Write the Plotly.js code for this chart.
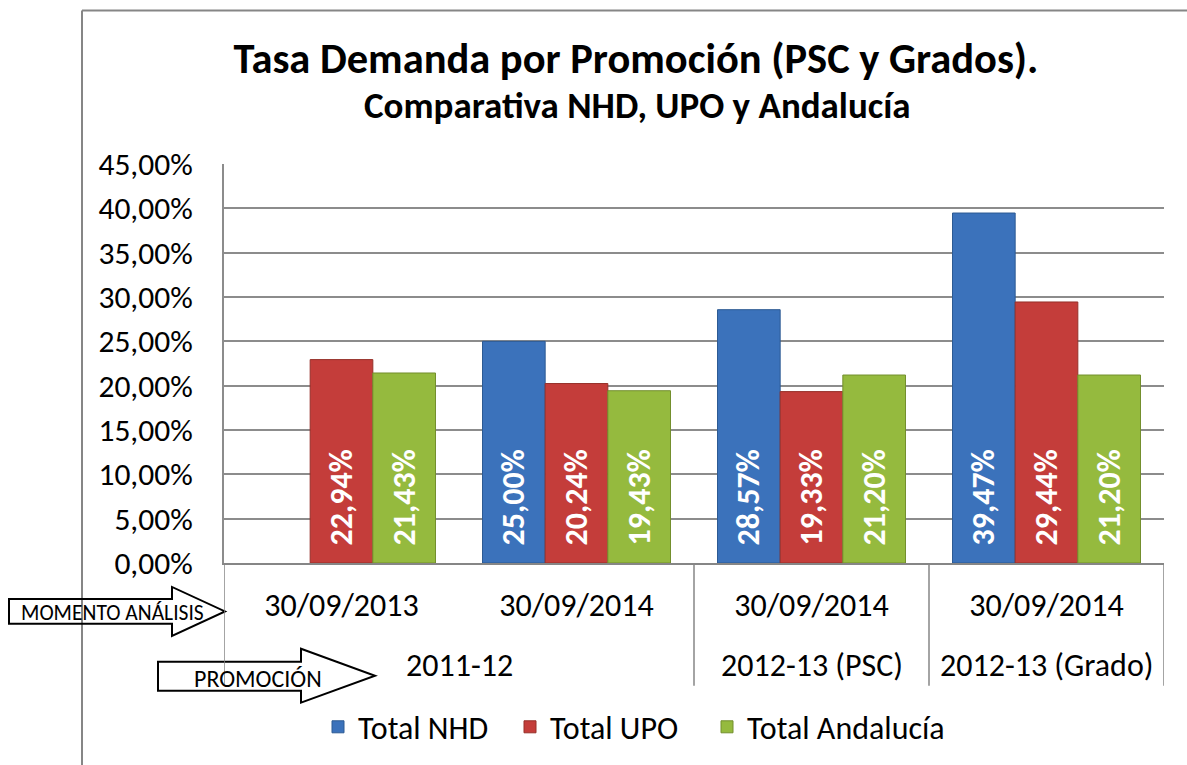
<!DOCTYPE html>
<html>
<head>
<meta charset="utf-8">
<script src="https://cdn.plot.ly/plotly-3.0.1.min.js"></script>
<style>html,body{margin:0;padding:0;background:#fff;}#chart{width:1187px;height:765px;}</style>
</head>
<body>
<div id="chart"></div>
<script>
// ---- data ----
const promociones = ["2011-12", "2011-12", "2012-13 (PSC)", "2012-13 (Grado)"];
const momentos = ["30/09/2013", "30/09/2014", "30/09/2014", "30/09/2014"];
const seriesNames = ["Total NHD", "Total UPO", "Total Andalucía"];
const totalNHD = [null, 0.2500, 0.2857, 0.3947];
const totalUPO = [0.2294, 0.2024, 0.1933, 0.2944];
const totalAndalucia = [0.2143, 0.1943, 0.2120, 0.2120];
const yTicks = [0, 0.05, 0.10, 0.15, 0.20, 0.25, 0.30, 0.35, 0.40, 0.45];

const FONT = "Carlito, Lato, 'Open Sans', sans-serif";
const colors = ["#3b72bb", "#c43d3a", "#95ba3e"];
const lineColors = ["#2c5a93", "#963029", "#738f2d"];
const values = [totalNHD, totalUPO, totalAndalucia];
const idx = momentos.map((_, i) => i);
const legendIds = ["legend", "legend2", "legend3"];

// plot area in pixels
const L = 224, R = 1164, T = 164, B = 564, W = 1187, H = 765;
const px = x => (x - L) / (R - L);
const py = y => (B - y) / (B - T);

const traces = values.map((v, i) => ({
  type: "bar",
  name: seriesNames[i],
  legend: legendIds[i],
  x: idx,
  y: v,
  marker: {color: colors[i], line: {color: lineColors[i], width: 1}},
  texttemplate: "\u00a0\u00a0%{y:.2%}",
  textposition: "inside",
  insidetextanchor: "start",
  textangle: -90,
  constraintext: "none",
  textfont: {family: FONT, size: 32, color: "#ffffff", weight: "bold"},
  hoverinfo: "skip"
}));

// outer category groups (promoción)
const groups = [];
promociones.forEach((p, i) => {
  const g = groups[groups.length - 1];
  if (g && g.name === p) g.last = i; else groups.push({name: p, first: i, last: i});
});

function arrowPath(x0, x1, xh, yTop, yBot, hTop, hBot) {
  const ym = (hTop + hBot) / 2;
  const pts = [[x0, yTop], [xh, yTop], [xh, hTop], [x1, ym], [xh, hBot], [xh, yBot], [x0, yBot]];
  return "M " + pts.map(p => px(p[0]) + "," + py(p[1])).join(" L ") + " Z";
}

const shapes = [
  // chart border (top and left)
  {type: "line", xref: "paper", yref: "paper", x0: px(82), x1: px(1195), y0: py(10), y1: py(10), line: {color: "#868686", width: 2}},
  {type: "line", xref: "paper", yref: "paper", x0: px(82), x1: px(82), y0: py(10), y1: py(775), line: {color: "#868686", width: 2}},
  // arrows
  {type: "path", xref: "paper", yref: "paper", path: arrowPath(9, 225, 172, 600, 625, 588, 637), line: {color: "#000", width: 2}},
  {type: "path", xref: "paper", yref: "paper", path: arrowPath(158, 375, 301, 663, 692, 650, 704), line: {color: "#000", width: 2}}
];
// dividers between promoción groups
const divX = [groups[0].first - 0.5].concat(groups.map(g => g.last + 0.5));
divX.forEach(x => shapes.push({type: "line", xref: "x", yref: "paper", x0: x, x1: x, y0: 0, y1: py(687),
  line: {color: "#868686", width: 1.5}}));

const annotations = [
  {text: "<b>Comparativa NHD, UPO y Andalucía</b>", xref: "paper", yref: "paper", x: px(637), y: py(105), showarrow: false,
   font: {family: FONT, size: 37, color: "#000"}, xanchor: "center", yanchor: "middle"},
  {text: "MOMENTO ANÁLISIS", xref: "paper", yref: "paper", x: px(112), y: py(614), showarrow: false,
   font: {family: FONT, size: 21.5, color: "#000"}, xanchor: "center", yanchor: "middle"},
  {text: "PROMOCIÓN", xref: "paper", yref: "paper", x: px(258), y: py(680), showarrow: false,
   font: {family: FONT, size: 24, color: "#000"}, xanchor: "center", yanchor: "middle"}
];
groups.forEach(g => annotations.push({text: g.name, xref: "x", yref: "paper", x: (g.first + g.last) / 2, y: py(667),
  showarrow: false, xanchor: "center", yanchor: "middle", font: {family: FONT, size: 32, color: "#000"}}));

const legendX = [318, 510, 707];
const legendBase = {orientation: "h", y: py(727), xanchor: "left", yanchor: "middle",
  font: {family: FONT, size: 32, color: "#000"}, itemclick: false, bgcolor: "rgba(0,0,0,0)"};

const layout = {
  width: W, height: H,
  paper_bgcolor: "#fff", plot_bgcolor: "#fff",
  margin: {l: L, r: W - R, t: T, b: H - B, pad: 0},
  separators: ",.",
  font: {family: FONT, color: "#000"},
  title: {text: "<b>Tasa Demanda por Promoción (PSC y Grados).</b>", xref: "container", yref: "container",
          x: 636 / W, y: 1 - 58 / H, xanchor: "center", yanchor: "middle",
          font: {family: FONT, size: 42.5, color: "#000"}},
  barmode: "group", bargap: 0.2, bargroupgap: 0,
  showlegend: true,
  xaxis: {type: "linear", range: [-0.5, idx.length - 0.5], tickvals: idx, ticktext: momentos,
          showgrid: false, zeroline: false, showline: true, linecolor: "#868686", linewidth: 2,
          ticks: "outside", ticklen: 13, tickcolor: "rgba(0,0,0,0)",
          tickfont: {family: FONT, size: 32, color: "#000"}},
  yaxis: {range: [0, 0.45], tickvals: yTicks, tickformat: ".2%", showgrid: true, gridcolor: "#8c8c8c", gridwidth: 2,
          showline: true, linecolor: "#8c8c8c", linewidth: 2, zeroline: false, ticks: "",
          ticklabelstandoff: 23, tickfont: {family: FONT, size: 31.5, color: "#000"}},
  shapes: shapes,
  annotations: annotations
};
legendIds.forEach((id, i) => { layout[id] = Object.assign({}, legendBase, {x: px(legendX[i])}); });

Plotly.newPlot("chart", traces, layout, {displayModeBar: false, staticPlot: true});
</script>
</body>
</html>
